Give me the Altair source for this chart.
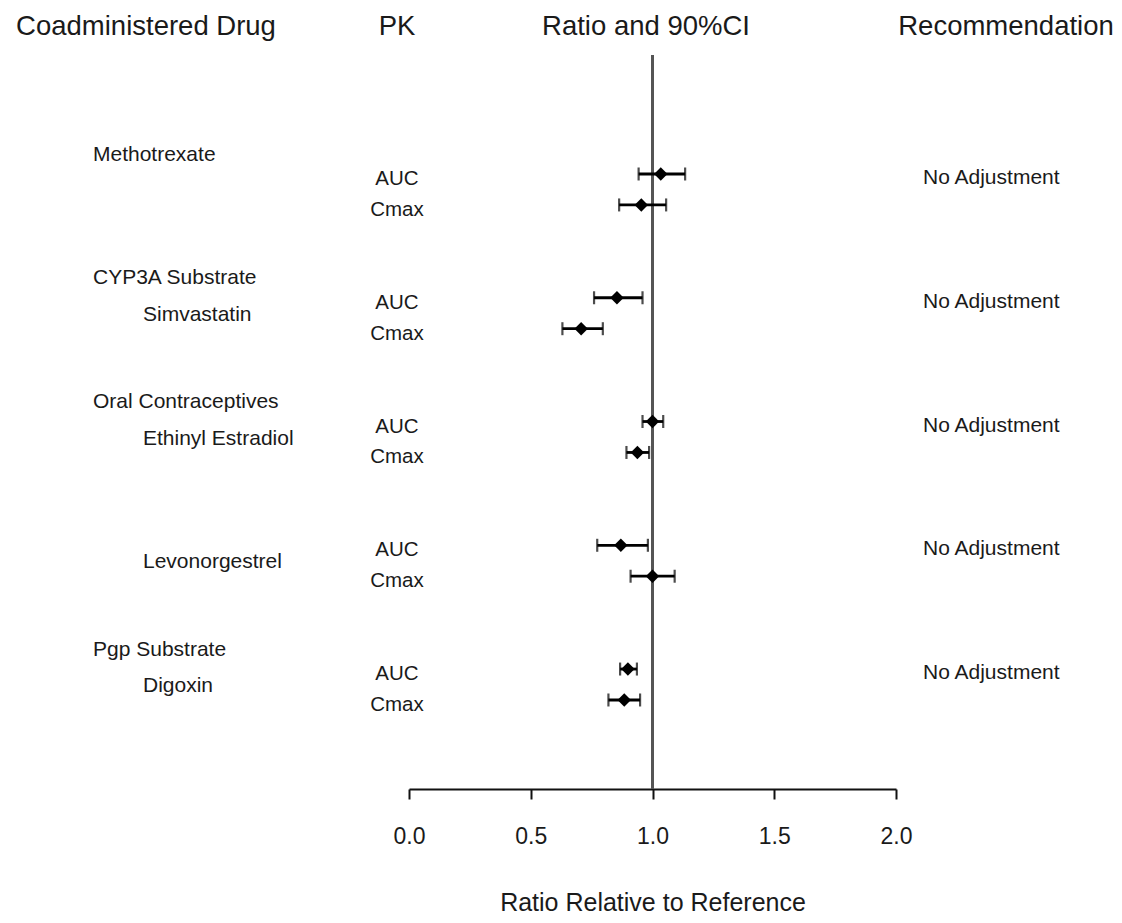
import altair as alt
import pandas as pd

# ---------------- data ----------------
groups = ["Methotrexate", "CYP3A Substrate", "Oral Contraceptives", "", "Pgp Substrate"]
drugs = ["", "Simvastatin", "Ethinyl Estradiol", "Levonorgestrel", "Digoxin"]
recommendations = ["No Adjustment", "No Adjustment", "No Adjustment", "No Adjustment", "No Adjustment"]
pk_params = ["AUC", "Cmax"]

auc_ratio = [1.034, 0.854, 1.000, 0.870, 0.899]
auc_lo = [0.943, 0.760, 0.959, 0.773, 0.867]
auc_hi = [1.134, 0.959, 1.044, 0.981, 0.936]
cmax_ratio = [0.954, 0.707, 0.938, 1.000, 0.884]
cmax_lo = [0.863, 0.630, 0.893, 0.910, 0.819]
cmax_hi = [1.056, 0.796, 0.986, 1.091, 0.949]

headers = ["Coadministered Drug", "PK", "Ratio and 90%CI", "Recommendation"]
x_ticks = [0.0, 0.5, 1.0, 1.5, 2.0]
x_title = "Ratio Relative to Reference"
reference_ratio = [1.0]

# ---------------- tables ----------------
ROWS_PER_GROUP = 4
est_rows = []
for g in range(len(groups)):
    for k, pk in enumerate(pk_params):
        r = [auc_ratio, cmax_ratio][k][g]
        lo = [auc_lo, cmax_lo][k][g]
        hi = [auc_hi, cmax_hi][k][g]
        est_rows.append({"row": ROWS_PER_GROUP * g + k, "pk": pk, "ratio": r, "lo": lo, "hi": hi})
est = pd.DataFrame(est_rows)

group_df = pd.DataFrame(
    [{"row": ROWS_PER_GROUP * g - 0.63, "label": t} for g, t in enumerate(groups) if t]
)
drug_df = pd.DataFrame(
    [{"row": ROWS_PER_GROUP * g + 0.55, "label": t} for g, t in enumerate(drugs) if t]
)
rec_df = pd.DataFrame(
    [{"row": ROWS_PER_GROUP * g, "label": t} for g, t in enumerate(recommendations)]
)
ref_df = pd.DataFrame({"ref": reference_ratio})

# ---------------- layout ----------------
FONT = "Liberation Sans"
TXT = "#1a1a1a"
W, H = 487, 734

x_scale = alt.Scale(domain=[0, 2], nice=False, zero=False)
y_scale = alt.Scale(domain=[-3.846, 19.877], reverse=True, nice=False, zero=False)


def X(field):
    return alt.X(
        field,
        scale=x_scale,
        title=x_title,
        axis=alt.Axis(
            values=x_ticks,
            format=".1f",
            grid=False,
            labelFlush=False,
            labelOverlap=False,
            domainColor="#111111",
            domainWidth=2,
            tickColor="#111111",
            tickWidth=2,
            tickSize=10,
            labelFontSize=23,
            labelColor=TXT,
            labelFont=FONT,
            labelPadding=26,
            titleFont=FONT,
            titleFontSize=25,
            titleFontWeight="normal",
            titleColor=TXT,
            titleBaseline="middle",
            titleY=113,
        ),
    )


Y = alt.Y("row:Q", scale=y_scale, axis=None)

ref = alt.Chart(ref_df).mark_rule(color="#555555", strokeWidth=3).encode(x=X("ref:Q"))

bars = alt.Chart(est).mark_rule(color="black", strokeWidth=2.8).encode(
    x=X("lo:Q"), x2="hi:Q", y=Y
)
cap_lo = alt.Chart(est).mark_tick(orient="vertical", color="black", size=13, thickness=2.2).encode(
    x=X("lo:Q"), y=Y
)
cap_hi = alt.Chart(est).mark_tick(orient="vertical", color="black", size=13, thickness=2.2).encode(
    x=X("hi:Q"), y=Y
)
pts = alt.Chart(est).mark_point(shape="diamond", filled=True, size=180, color="black", opacity=1).encode(
    x=X("ratio:Q"), y=Y
)

text_kw = dict(font=FONT, color=TXT, baseline="middle")

group_txt = alt.Chart(group_df).mark_text(align="left", fontSize=21, **text_kw).encode(
    x=alt.value(-316), y=Y, text="label:N"
)
drug_txt = alt.Chart(drug_df).mark_text(align="left", fontSize=21, **text_kw).encode(
    x=alt.value(-266), y=Y, text="label:N"
)
pk_txt = alt.Chart(est).mark_text(align="center", fontSize=20.5, dy=5, **text_kw).encode(
    x=alt.value(-12), y=Y, text="pk:N"
)
rec_txt = alt.Chart(rec_df).mark_text(align="left", fontSize=21, dy=4, **text_kw).encode(
    x=alt.value(514), y=Y, text="label:N"
)

header_x = [-263, -12, 237, 597]
header_layers = [
    alt.Chart(ref_df).mark_text(text=h, align="center", fontSize=27.5, **text_kw).encode(
        x=alt.value(hx), y=alt.value(-28)
    )
    for h, hx in zip(headers, header_x)
]

chart = (
    alt.layer(ref, bars, cap_lo, cap_hi, pts, group_txt, drug_txt, pk_txt, rec_txt, *header_layers)
    .properties(
        width=W,
        height=H,
        autosize=alt.AutoSizeParams(type="none"),
        padding={"left": 401, "top": 47, "right": 218, "bottom": 127},
        background="white",
    )
    .configure_view(stroke=None)
)

chart.save("out.html", embed_options={"renderer": "svg", "actions": False})
